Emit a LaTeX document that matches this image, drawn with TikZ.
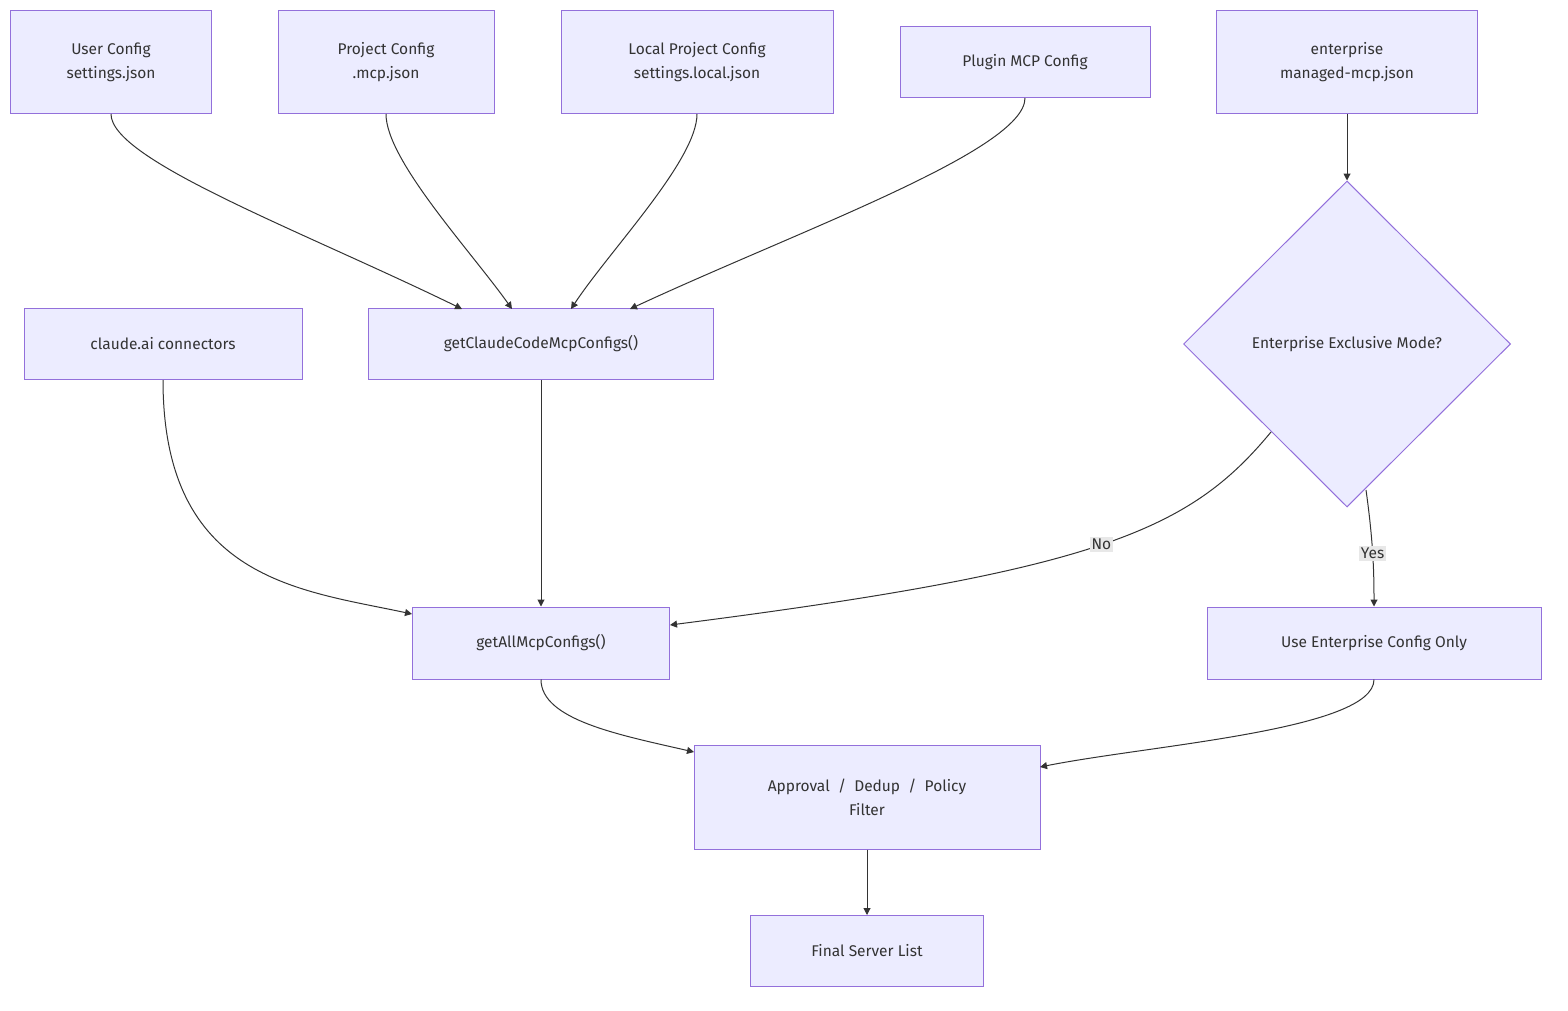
\documentclass[tikz,border=0pt]{standalone}
\usepackage{fontspec}
\setmainfont{Fira Sans}
\usetikzlibrary{shapes.geometric,arrows.meta}
\definecolor{nfill}{HTML}{ECECFF}
\definecolor{nborder}{HTML}{9370DB}
\definecolor{edge}{HTML}{333333}
\definecolor{lbl}{HTML}{E8E8E8}
\begin{document}
\begin{tikzpicture}[x=1pt,y=-1pt,
  box/.style={draw=nborder,fill=nfill,line width=1pt,minimum height=72pt,align=center,font=\fontsize{15.5}{24}\selectfont,text=edge,inner sep=0pt},
  dia/.style={diamond,draw=nborder,fill=nfill,line width=1pt,minimum width=327pt,minimum height=326pt,font=\fontsize{15.5}{24}\selectfont,text=edge,inner sep=0pt},
  arr/.style={draw=edge,line width=1pt,-{Triangle[length=7pt,width=7pt]}},
  el/.style={fill=lbl,font=\fontsize{15.5}{20}\selectfont,text=edge,inner sep=2pt}]
\useasboundingbox (0,0) rectangle (1568,1010);
\node[box,minimum width=201pt,minimum height=103pt] (user) at (111,62) {User Config\\settings.json};
\node[box,minimum width=216pt,minimum height=103pt] (proj) at (386,62) {Project Config\\.mcp.json};
\node[box,minimum width=272pt,minimum height=103pt] (local) at (697,62) {Local Project Config\\settings.local.json};
\node[box,minimum width=250pt,minimum height=71pt] (plugin) at (1025,62) {Plugin MCP Config};
\node[box,minimum width=261pt,minimum height=103pt] (ent) at (1347,62) {enterprise\\managed-mcp.json};
\node[box,minimum width=278pt,minimum height=71pt] (claude) at (163,344) {claude.ai connectors};
\node[box,minimum width=345pt,minimum height=71pt] (gcc) at (541,344) {getClaudeCodeMcpConfigs()};
\node[dia] (mode) at (1347,344) {Enterprise Exclusive Mode?};
\node[box,minimum width=257pt,minimum height=72pt] (all) at (541,643) {getAllMcpConfigs()};
\node[box,minimum width=334pt,minimum height=72pt] (use) at (1374,643) {Use Enterprise Config Only};
\node[box,minimum width=346pt,minimum height=104pt] (appr) at (867,797) {Approval~~/~~Dedup~~/~~Policy\\Filter};
\node[box,minimum width=233pt,minimum height=71pt] (final) at (867,951) {Final Server List};
\coordinate (g1) at (462,309);
\coordinate (g2) at (512,309);
\coordinate (g3) at (571,309);
\coordinate (g4) at (630,309);
\draw[arr] (user.south) .. controls (111,160) and (300,230) .. (g1);
\draw[arr] (proj.south) .. controls (386,160) and (470,250) .. (g2);
\draw[arr] (local.south) .. controls (697,160) and (610,250) .. (g3);
\draw[arr] (plugin.south) .. controls (1025,150) and (800,230) .. (g4);
\draw[arr] (ent.south) -- (mode.north);
\draw[arr] (claude.south) .. controls (163,580) and (300,590) .. (all.west |- 0,614);
\draw[arr] (gcc.south) -- (all.north);
\draw[arr] (1271,432) .. controls (1190,530) and (1100,570) .. node[el,pos=0.5] {No} (670,625);
\draw[arr] (1366,490) .. controls (1373,540) and (1374,570) .. node[el,pos=0.5] {Yes} (use.north);
\draw[arr] (all.south) .. controls (541,720) and (620,735) .. (694,752);
\draw[arr] (use.south) .. controls (1374,730) and (1150,745) .. (1040,767);
\draw[arr] (appr.south) -- (final.north);
\end{tikzpicture}
\end{document}
